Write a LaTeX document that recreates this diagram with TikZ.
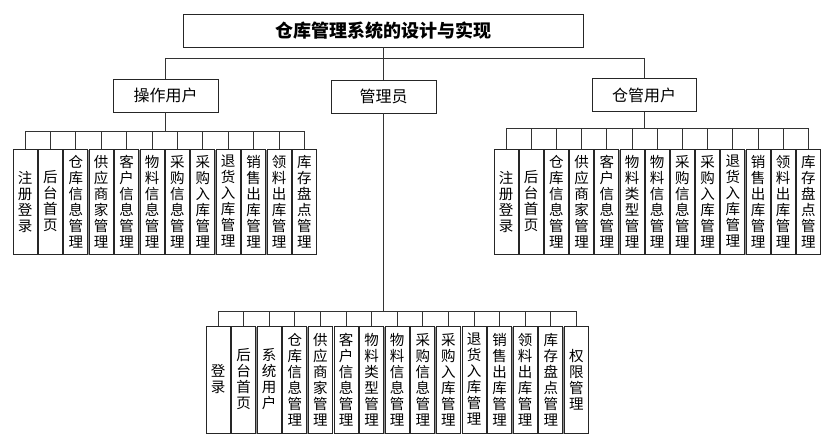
\documentclass[tikz,border=0pt]{standalone}
\usepackage{fontspec}
\setmainfont{Noto Sans CJK SC}
\usetikzlibrary{shadows}
\XeTeXlinebreaklocale "zh"
\XeTeXlinebreakskip=0pt plus 1pt
\tikzset{>=latex,
  box/.style={draw=black!85,fill=white,line width=0.8pt,inner sep=0pt,
    drop shadow={shadow xshift=0.9pt,shadow yshift=-0.9pt,fill=black!55,opacity=0.8}},
  item/.style={box,minimum width=24pt,minimum height=105pt,text width=16pt,
    align=center,font=\fontsize{14.5}{16}\selectfont},
  head/.style={box,minimum width=105pt,minimum height=33pt,font=\fontsize{16}{18}\selectfont},
  link/.style={draw=black!80,line width=0.8pt}}

\begin{document}
\begin{tikzpicture}[x=1pt,y=1pt]
    \useasboundingbox (0,0) rectangle (829,446);
    % top levels
    \node[box,minimum width=400pt,minimum height=33pt,font=\fontsize{18}{20}\selectfont\bfseries]
      (sys) at (383,415.5) {仓库管理系统的设计与实现};
    \node[head] (op) at (165.5,350.5) {操作用户};
    \node[head] (adm) at (383.5,349.5) {管理员};
    \node[head,minimum width=104pt] (wh) at (644,351) {仓管用户};
    \coordinate (bar) at (383,388);
    \draw[link] (sys) -- (bar);
    \draw[link] (op.north |- bar) -- (wh.north |- bar);
    \draw[link] (op.north |- bar) -- (op.north);
    \draw[link] (adm.north |- bar) -- (adm.north);
    \draw[link] (wh.north |- bar) -- (wh.north);
    % operator
    \coordinate (opbus) at (165.5,315);
    \foreach\t [count=\i] in {注册登录,后台首页,仓库信息管理,供应商家管理,客户信息管理,物料信息管理,
        采购信息管理,采购入库管理,退货入库管理,销售出库管理,领料出库管理,库存盘点管理}{
     \node[item] (op\i) at ({25+25.4*(\i-1)},244.5) {\t};
     \draw[link] (op\i.north) -- (op\i.north |- opbus);}
    \draw[link] (op) -- (opbus);
    \draw[link] (op1.north |- opbus) -- (op12.north |- opbus);
    % warehouse
    \coordinate (whbus) at (644,318);
    \foreach\t [count=\i] in {注册登录,后台首页,仓库信息管理,供应商家管理,客户信息管理,物料类型管理,
        物料信息管理,采购信息管理,采购入库管理,退货入库管理,销售出库管理,领料出库管理,库存盘点管理}{
     \node[item] (wh\i) at ({506+25.2*(\i-1)},244.5) {\t};
     \draw[link] (wh\i.north) -- (wh\i.north |- whbus);}
    \draw[link] (wh) -- (whbus);
    \draw[link] (wh1.north |- whbus) -- (wh13.north |- whbus);
    % admin
    \coordinate (admbus) at (383.5,135);
    \foreach\t [count=\i] in {登录,后台首页,系统用户,仓库信息管理,供应商家管理,客户信息管理,物料类型管理,
        物料信息管理,采购信息管理,采购入库管理,退货入库管理,销售出库管理,领料出库管理,库存盘点管理,权限管理}{
     \node[item,minimum height=107pt] (adm\i) at ({218+25.6*(\i-1)},66.5) {\t};
     \draw[link] (adm\i.north) -- (adm\i.north |- admbus);}
    \draw[link] (adm) -- (admbus);
    \draw[link] (adm1.north |- admbus) -- (adm15.north |- admbus);
  \end{tikzpicture}
\end{document}
